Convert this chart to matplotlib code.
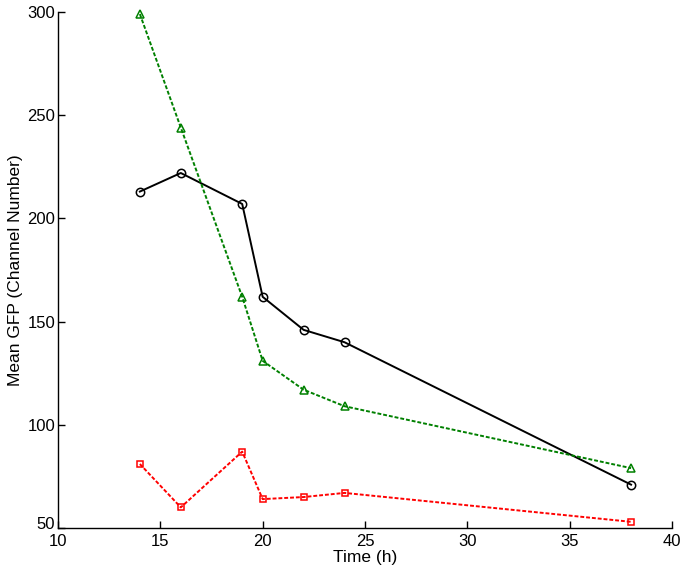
import matplotlib
matplotlib.use("Agg")
import matplotlib.pyplot as plt
from matplotlib.transforms import ScaledTranslation

time_h = [14, 16, 19, 20, 22, 24, 38]
black_series = [213, 222, 207, 162, 146, 140, 71]
green_series = [299, 244, 162, 131, 117, 109, 79]
red_series = [81, 60, 87, 64, 65, 67, 53]
xticks = [10, 15, 20, 25, 30, 35, 40]
yticks = [50, 100, 150, 200, 250, 300]

plt.rcParams['font.family'] = ['Liberation Sans', 'DejaVu Sans']

fig = plt.figure(figsize=(6.85, 5.77), dpi=100)
ax = fig.add_axes([58/685, 1-528/577, (672-58)/685, (528-12)/577])

ax.plot(time_h, black_series, color='black', lw=1.4, marker='o', ms=6,
        mfc='none', mec='black', mew=1.1, clip_on=False)
ax.plot(time_h, green_series, color='#008000', lw=1.4, ls=(0, (2, 1)), marker='^', ms=6,
        mfc='none', mec='#008000', mew=1.1, clip_on=False)
ax.plot(time_h, red_series, color='#ff0000', lw=1.4, ls=(0, (2, 1)), marker='s', ms=5,
        mfc='none', mec='#ff0000', mew=1.1, clip_on=False)

ax.set_xlim(10, 40)
ax.set_ylim(50, 300)
ax.set_xticks(xticks)
ax.set_yticks(yticks)
ax.tick_params(direction='in', length=5, width=1, labelsize=12, pad=2)
ax.tick_params(axis='x', pad=4)
for s in ['top', 'right']:
    ax.spines[s].set_visible(False)
for s in ['left', 'bottom']:
    ax.spines[s].set_linewidth(1.0)
ax.set_xlabel('Time (h)', fontsize=12.5, labelpad=1)
ax.set_ylabel('Mean GFP (Channel Number)', fontsize=12.5, labelpad=3)

fig.canvas.draw()
lbl = ax.get_yticklabels()[0]
lbl.set_transform(lbl.get_transform() + ScaledTranslation(0, 5/100, fig.dpi_scale_trans))

fig.savefig('out.png', dpi=100)
